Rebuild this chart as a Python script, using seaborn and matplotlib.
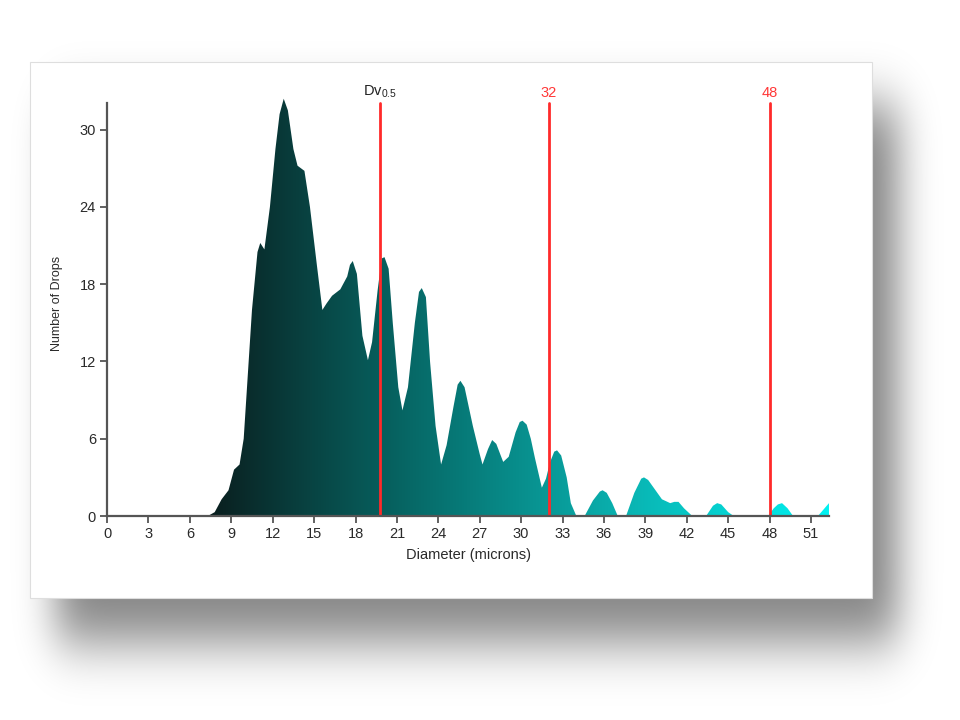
import numpy as np
import pandas as pd
import seaborn as sns
import matplotlib.pyplot as plt
from matplotlib.colors import LinearSegmentedColormap
from matplotlib.patches import Rectangle

# droplet size distribution
diameter = [7.3, 7.8, 8.3, 8.8, 9.2, 9.6, 9.9, 10.2, 10.5, 10.9, 11.1, 11.4, 11.8, 12.2,
            12.5, 12.8, 13.1, 13.5, 13.8, 14.3, 14.7, 15.2, 15.6, 15.9, 16.3, 16.9, 17.4,
            17.6, 17.8, 18.1, 18.5, 18.9, 19.2, 19.6, 19.9, 20.1, 20.4, 20.7, 21.1, 21.4,
            21.8, 22.3, 22.6, 22.8, 23.1, 23.4, 23.8, 24.2, 24.6, 25.1, 25.4, 25.6, 25.9,
            26.5, 27.0, 27.2, 27.6, 27.9, 28.2, 28.7, 29.1, 29.6, 29.9, 30.1, 30.4, 30.7,
            31.0, 31.5, 31.8, 32.1, 32.4, 32.6, 32.9, 33.3, 33.6, 34.0, 34.6, 35.2, 35.7,
            35.9, 36.2, 36.6, 37.0, 37.6, 38.2, 38.7, 38.9, 39.2, 39.6, 40.2, 40.8, 41.1,
            41.4, 41.8, 42.4, 43.4, 43.9, 44.2, 44.5, 45.0, 45.4, 47.9, 48.3, 48.6, 48.9,
            49.3, 49.7, 51.5, 52.3]
drops = [0, 0.3, 1.3, 2.0, 3.6, 4.0, 6, 11, 16, 20.5, 21.2, 20.7, 24, 28.5,
         31.2, 32.4, 31.5, 28.5, 27.2, 26.8, 24, 19.5, 16.0, 16.5, 17.1, 17.6, 18.6,
         19.5, 19.8, 18.8, 14, 12.1, 13.5, 17.5, 20.0, 20.1, 19.2, 15, 10, 8.2,
         10, 15, 17.4, 17.7, 17.0, 12, 7, 4.0, 5.5, 8.5, 10.2, 10.5, 10.0,
         7, 4.8, 4.0, 5.2, 5.9, 5.6, 4.2, 4.6, 6.5, 7.3, 7.4, 7.1, 6.0,
         4.5, 2.2, 2.9, 4.2, 5.0, 5.1, 4.7, 3.0, 1.0, 0, 0, 1.2, 1.9,
         2.0, 1.8, 1.0, 0, 0, 1.8, 2.9, 3.0, 2.8, 2.2, 1.3, 1.0, 1.1,
         1.1, 0.6, 0, 0, 0.8, 1.0, 0.9, 0.3, 0, 0, 0.6, 0.9, 1.0,
         0.6, 0, 0, 1.0]

marker_x = [19.8, 32, 48]
marker_labels = ["Dv$_{\\mathregular{0.5}}$", "32", "48"]
marker_colors = ["#222222", "#ff3838", "#ff3838"]

x_ticks = list(range(0, 52, 3))
y_ticks = list(range(0, 31, 6))

sns.set_theme(style="ticks")
plt.rcParams["font.family"] = ["Liberation Sans", "DejaVu Sans"]

W, H = 960, 720
fig = plt.figure(figsize=(9.6, 7.2), dpi=100)
fig.patch.set_facecolor("white")

# background: blurred drop shadow + white card
bg = fig.add_axes([0, 0, 1, 1])
bg.set_xlim(0, W)
bg.set_ylim(H, 0)
bg.axis("off")
mask = np.zeros((H, W))
mask[105:642, 56:898] = 1.0
kx = np.exp(-0.5 * (np.arange(-70, 71) / 19.0) ** 2)
kx /= kx.sum()
ky = np.exp(-0.5 * (np.arange(-90, 91) / 27.0) ** 2)
ky /= ky.sum()
mask = np.apply_along_axis(lambda r: np.convolve(r, kx, mode="same"), 1, mask)
mask = np.apply_along_axis(lambda c: np.convolve(c, ky, mode="same"), 0, mask)
shadow = np.zeros((H, W, 4))
shadow[..., 3] = mask * 0.48
bg.imshow(shadow, extent=(0, W, H, 0), zorder=0)
bg.add_patch(Rectangle((30, 62), 842, 536, facecolor="white", edgecolor="#dedede",
                       lw=0.8, zorder=1))

ax = fig.add_axes([0.1115, 0.2833, 0.752, 0.5903])
ax.set_facecolor("none")

# gradient filled area
poly = ax.fill_between(diameter, drops, 0, color="none", lw=0)
cmap = LinearSegmentedColormap.from_list("drops", ["#0a1e1e", "#066a68", "#0ab2b0", "#00f2f2"],
                                         N=256)
grad = np.linspace(0, 1, 256).reshape(1, -1)
img = ax.imshow(grad, cmap=cmap, aspect="auto", extent=(7.3, 52.3, 0, 33),
                origin="lower", zorder=2, interpolation="bicubic")
img.set_clip_path(poly.get_paths()[0], transform=ax.transData)

# marker lines
lines = pd.DataFrame({
    "x": [v for v in marker_x for _ in (0, 1)],
    "y": [0, 32.1] * len(marker_x),
    "line": [i for i in range(len(marker_x)) for _ in (0, 1)],
})
sns.lineplot(data=lines, x="x", y="y", units="line", estimator=None, color="#ff2a2a",
             lw=2, ax=ax, zorder=3, legend=False)
for xv, lab, col in zip(marker_x, marker_labels, marker_colors):
    ax.text(xv, 32.3, lab, color=col, ha="center", va="bottom", fontsize=10.5)

ax.set_xlim(0, 52.3)
ax.set_ylim(0, 33)
ax.set_xticks(x_ticks)
ax.set_yticks(y_ticks)
ax.spines["left"].set_bounds(0, 32.1)
sns.despine(ax=ax)
for s in ("left", "bottom"):
    ax.spines[s].set_color("#555555")
    ax.spines[s].set_linewidth(1.6)
    ax.spines[s].set_zorder(4)
ax.tick_params(length=5, width=1.3, color="#555555", labelsize=10.5, labelcolor="#2a2a2a", pad=3)
ax.set_xlabel("Diameter (microns)", fontsize=10.5, color="#2a2a2a", labelpad=5)
ax.set_ylabel("Number of Drops", fontsize=9, color="#2a2a2a", labelpad=12)

fig.savefig("out.png", dpi=100)
